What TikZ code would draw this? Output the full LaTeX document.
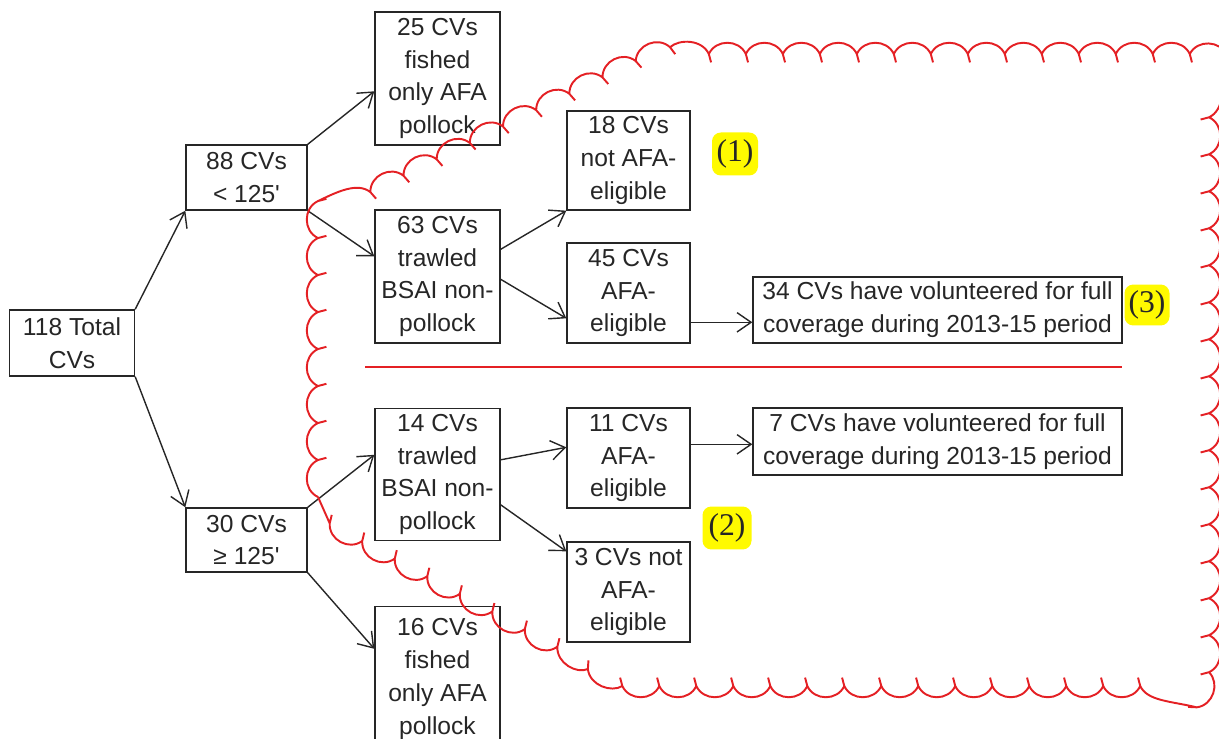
\documentclass[tikz,border=0pt]{standalone}
\usepackage{fontspec}
\setmainfont{Liberation Sans}
\newfontfamily\boxfont{Liberation Sans}
\newfontfamily\labelfont{Liberation Serif}
\usetikzlibrary{arrows.meta,calc,decorations}

\pgfdeclaredecoration{scallop}{initial}{
  \state{initial}[width=\pgfdecorationsegmentlength]{
    \pgfsetcornersarced{\pgfpointorigin}%
    \pgfpathcurveto{\pgfpoint{0.19\pgfdecorationsegmentlength}{1.25\pgfdecorationsegmentamplitude}}
      {\pgfpoint{0.81\pgfdecorationsegmentlength}{1.25\pgfdecorationsegmentamplitude}}
      {\pgfpoint{\pgfdecorationsegmentlength}{0pt}}
    \pgfpathlineto{\pgfpoint{1.06\pgfdecorationsegmentlength}{-0.7\pgfdecorationsegmentamplitude}}
    \pgfpathmoveto{\pgfpoint{\pgfdecorationsegmentlength}{0pt}}
  }
  \state{final}{\pgfsetcornersarced{\pgfpointorigin}\pgfpathlineto{\pgfpointdecoratedpathlast}}
}

\definecolor{cloudred}{RGB}{228,32,36}
\definecolor{hlyellow}{RGB}{255,250,0}

\begin{document}
\begin{tikzpicture}[x=0.02cm,y=-0.02cm,
  box/.style={draw=black!85, line width=0.8pt, align=center, inner sep=0pt,
    font=\boxfont\fontsize{14}{18.7}\selectfont, text=black!85},
  arr/.style={line width=0.8pt, draw=black!85, -{Straight Barb[length=8pt,width=11pt]}},
  cloud/.style={draw=cloudred, line width=1.1pt, rounded corners=0.4cm,
    decorate, decoration={scallop, segment length=0.74cm, amplitude=0.24cm}},
  tag/.style={fill=hlyellow, rounded corners=5pt, inner sep=0pt,
    font=\labelfont\fontsize{18}{20}\selectfont, text=black!85}
]
\useasboundingbox (0,0) rectangle (1219,739);
\begin{scope}
\clip (0,0) rectangle (1219,739);

% boxes
\node[box, minimum width=2.5cm,  minimum height=1.32cm] (n118) at (72,343) {118 Total\\CVs};
\node[box, minimum width=2.42cm, minimum height=1.3cm]  (n88)  at (246.5,177.5) {88 CVs\\< 125'};
\node[box, minimum width=2.42cm, minimum height=1.28cm] (n30)  at (246.5,540) {30 CVs\\≥ 125'};
\node[box, minimum width=2.5cm,  minimum height=2.66cm] (n25)  at (437.5,78.5) {25 CVs\\fished\\only AFA\\pollock};
\node[box, minimum width=2.5cm,  minimum height=2.66cm] (n63)  at (437.5,276.5) {63 CVs\\trawled\\BSAI non-\\pollock};
\node[box, minimum width=2.5cm,  minimum height=2.64cm] (n14)  at (437.5,474.5) {14 CVs\\trawled\\BSAI non-\\pollock};
\node[box, minimum width=2.5cm,  minimum height=2.9cm]  (n16)  at (437.5,679) {16 CVs\\fished\\only AFA\\pollock};
\node[box, minimum width=2.46cm, minimum height=1.98cm] (n18)  at (628.5,160.5) {18 CVs\\not AFA-\\eligible};
\node[box, minimum width=2.46cm, minimum height=2.0cm]  (n45)  at (628.5,293) {45 CVs\\AFA-\\eligible};
\node[box, minimum width=2.46cm, minimum height=2.0cm]  (n11)  at (628.5,458) {11 CVs\\AFA-\\eligible};
\node[box, minimum width=2.46cm, minimum height=2.0cm]  (n3)   at (628.5,592) {3 CVs not\\AFA-\\eligible};
\node[box, minimum width=7.38cm, minimum height=1.32cm] (n34)  at (937.5,310) {34 CVs have volunteered for full\\coverage during 2013-15 period};
\node[box, minimum width=7.38cm, minimum height=1.34cm] (n7)   at (937.5,441.5) {7 CVs have volunteered for full\\coverage during 2013-15 period};

% tags
\node[tag, minimum width=0.92cm, minimum height=0.86cm] (t1) at (735,154) {(1)};
\node[tag, minimum width=0.98cm, minimum height=0.86cm] (t2) at (727,528) {(2)};
\node[tag, minimum width=0.9cm,  minimum height=0.82cm] (t3) at (1147,305) {(3)};

% connectors
\draw[arr] (n118.north east) -- (n88.south west);
\draw[arr] (n118.south east) -- (n30.north west);
\draw[arr] (n88.north east) -- ($(n25.north west)+(0,80)$);
\draw[arr] (n88.south east) -- ($(n63.north west)+(0,47)$);
\draw[arr] ($(n63.north east)+(0,40)$) -- (n18.south west);
\draw[arr] ($(n63.north east)+(0,70)$) -- ($(n45.north west)+(0,76)$);
\coordinate (a34) at ($(n34.north west)+(0,46)$);
\draw[arr] (n45.east |- a34) -- (a34);
\draw[arr] (n30.north east) -- ($(n14.north west)+(0,47)$);
\draw[arr] (n30.south east) -- ($(n16.north west)+(0,43)$);
\draw[arr] ($(n14.north east)+(0,52)$) -- ($(n11.north west)+(0,40)$);
\draw[arr] ($(n14.north east)+(0,97)$) -- ($(n3.north west)+(0,10)$);
\coordinate (a7) at ($(n7.north west)+(0,37)$);
\draw[arr] (n11.east |- a7) -- (a7);

% separator
\draw[cloudred, line width=1.1pt] (365,367) -- (1122,367);

% cloud
\draw[cloud] (318,517) -- (318,218) -- (650,54) -- (1209,54) -- (1209,686) -- (630,686) -- cycle;
\end{scope}
\end{tikzpicture}
\end{document}
